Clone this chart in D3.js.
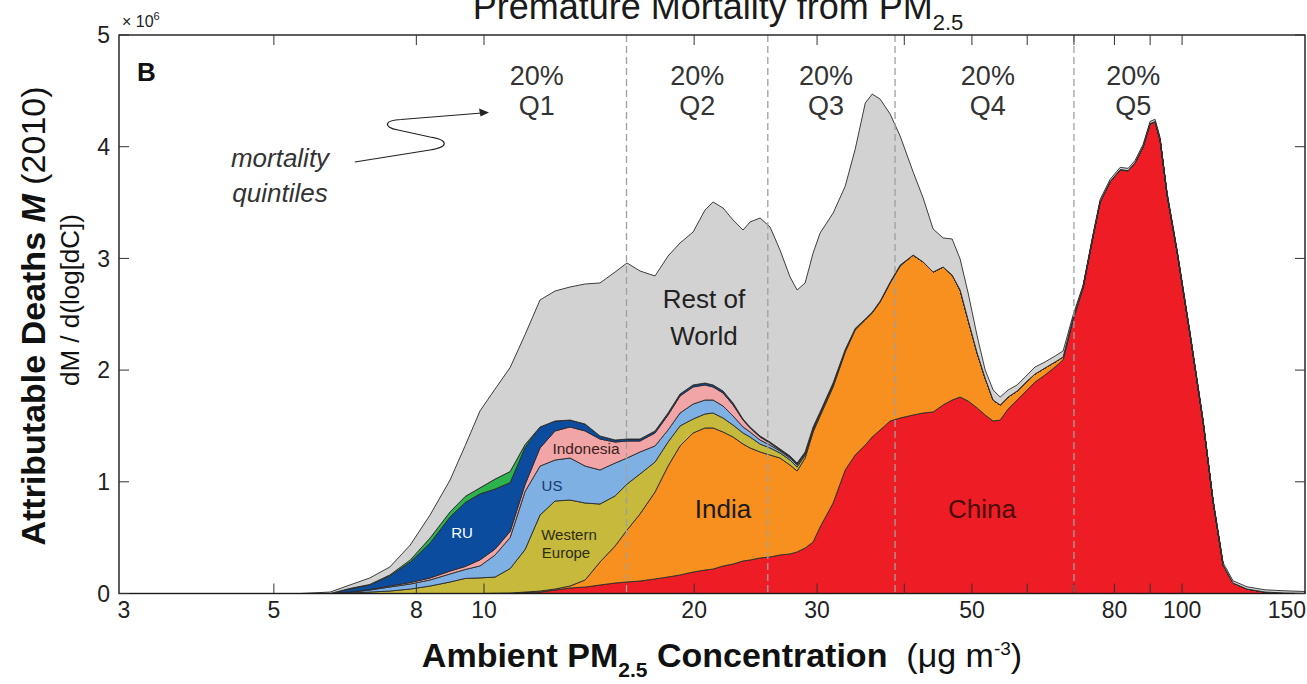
<!DOCTYPE html>
<html lang="en">
<head>
<meta charset="utf-8">
<title>Premature Mortality from PM2.5</title>
<script src="https://d3js.org/d3.v7.min.js"></script>
<style>
  body { margin: 0; background: #fff; }
  svg text { font-family: "Liberation Sans", Arial, Helvetica, sans-serif; }
</style>
</head>
<body>
<div id="chart"></div>
<script>

// ambient PM2.5 concentration (ug/m3) of each sample column
var concentration = [3.00, 5.45, 6.02, 6.43, 6.86, 7.33, 7.84, 8.37, 8.94, 9.40,
  9.87, 10.37, 10.90, 11.45, 12.03, 12.64, 13.28, 13.96, 14.66, 15.41,
  16.03, 16.73, 17.58, 18.35, 19.09, 19.93, 20.73, 21.29, 22.00, 22.74,
  23.50, 24.05, 24.86, 25.69, 26.55, 27.44, 28.09, 28.84, 29.61, 30.30,
  31.63, 32.92, 34.02, 35.17, 35.98, 36.94, 38.18, 39.46, 41.19, 42.57,
  43.99, 45.47, 46.84, 48.09, 49.38, 50.87, 52.23, 53.62, 54.88, 56.34,
  58.04, 59.98, 61.57, 63.63, 65.79, 67.54, 69.81, 72.15, 74.59, 76.33,
  78.87, 81.54, 83.71, 85.65, 87.94, 90.00, 91.48, 93.00, 95.17, 98.36,
  102.7, 107.2, 110.8, 114.5, 118.3, 123.9, 131.5, 140.5, 150.0];

// attributable deaths dM/d(log[dC]), millions, per region
var china = [0, 0, 0, 0, 0, 0, 0, 0, 0, 0,
  0, 0.002, 0.004, 0.008, 0.013, 0.031, 0.049, 0.058, 0.076, 0.094,
  0.103, 0.112, 0.130, 0.148, 0.166, 0.192, 0.210, 0.219, 0.246, 0.264,
  0.291, 0.300, 0.318, 0.327, 0.345, 0.354, 0.372, 0.407, 0.461, 0.595,
  0.810, 1.106, 1.240, 1.329, 1.401, 1.464, 1.544, 1.571, 1.598, 1.616,
  1.625, 1.688, 1.732, 1.759, 1.723, 1.661, 1.598, 1.544, 1.553, 1.652,
  1.732, 1.822, 1.893, 1.956, 2.028, 2.091, 2.449, 2.735, 3.200, 3.505,
  3.684, 3.791, 3.782, 3.854, 3.997, 4.203, 4.221, 4.060, 3.568, 3.057,
  2.314, 1.535, 0.819, 0.255, 0.094, 0.040, 0.013, 0.004, 0];
var india = [0, 0, 0, 0, 0, 0, 0, 0, 0, 0,
  0, 0, 0, 0.005, 0.009, 0.009, 0.018, 0.063, 0.206, 0.331,
  0.466, 0.600, 0.779, 0.993, 1.155, 1.245, 1.272, 1.263, 1.200, 1.137,
  1.047, 1.003, 0.949, 0.913, 0.868, 0.796, 0.725, 0.806, 0.985, 0.994,
  1.039, 1.056, 1.119, 1.120, 1.110, 1.146, 1.236, 1.361, 1.432, 1.352,
  1.253, 1.235, 1.119, 0.958, 0.726, 0.492, 0.331, 0.188, 0.135, 0.107,
  0.081, 0.080, 0.072, 0.063, 0.045, 0.027, 0.018, 0.009, 0.005, 0.004,
  0.004, 0.004, 0.004, 0.004, 0.004, 0.004, 0.004, 0.004, 0.004, 0.004,
  0, 0, 0, 0, 0, 0, 0, 0, 0];
var westernEurope = [0, 0, 0, 0.005, 0.013, 0.022, 0.040, 0.067, 0.103, 0.135,
  0.140, 0.145, 0.219, 0.380, 0.681, 0.788, 0.770, 0.689, 0.519, 0.448,
  0.411, 0.358, 0.268, 0.215, 0.179, 0.125, 0.125, 0.134, 0.125, 0.107,
  0.099, 0.098, 0.071, 0.063, 0.045, 0.045, 0.035, 0.027, 0.018, 0.018,
  0.018, 0.018, 0.009, 0.009, 0.008, 0.008, 0.008, 0.008, 0, 0,
  0, 0, 0, 0, 0, 0, 0, 0, 0, 0,
  0, 0, 0, 0, 0, 0, 0, 0, 0, 0,
  0, 0, 0, 0, 0, 0, 0, 0, 0, 0,
  0, 0, 0, 0, 0, 0, 0, 0, 0];
var us = [0, 0, 0, 0.005, 0.018, 0.036, 0.045, 0.054, 0.072, 0.080,
  0.107, 0.197, 0.278, 0.520, 0.438, 0.367, 0.376, 0.331, 0.305, 0.295,
  0.233, 0.197, 0.144, 0.108, 0.116, 0.134, 0.125, 0.116, 0.108, 0.081,
  0.054, 0.045, 0.036, 0.026, 0.018, 0.018, 0.018, 0.009, 0.009, 0.009,
  0.009, 0.005, 0.005, 0, 0, 0, 0, 0, 0, 0,
  0, 0, 0, 0, 0, 0, 0, 0, 0, 0,
  0, 0, 0, 0, 0, 0, 0, 0, 0, 0,
  0, 0, 0, 0, 0, 0, 0, 0, 0, 0,
  0, 0, 0, 0, 0, 0, 0, 0, 0];
var indonesia = [0, 0, 0, 0.004, 0.005, 0.009, 0.013, 0.018, 0.026, 0.027,
  0.054, 0.053, 0.054, 0.062, 0.162, 0.260, 0.278, 0.314, 0.277, 0.188,
  0.152, 0.098, 0.116, 0.134, 0.152, 0.153, 0.135, 0.117, 0.116, 0.099,
  0.062, 0.036, 0.027, 0.018, 0.009, 0.009, 0.009, 0.009, 0.009, 0.005,
  0.005, 0, 0, 0, 0, 0, 0, 0, 0, 0,
  0, 0, 0, 0, 0, 0, 0, 0, 0, 0,
  0, 0, 0, 0, 0, 0, 0, 0, 0, 0,
  0, 0, 0, 0, 0, 0, 0, 0, 0, 0,
  0, 0, 0, 0, 0, 0, 0, 0, 0];
var russia = [0, 0, 0, 0.027, 0.040, 0.090, 0.184, 0.313, 0.484, 0.573,
  0.591, 0.538, 0.438, 0.332, 0.188, 0.089, 0.062, 0.062, 0.027, 0.018,
  0.018, 0.018, 0.018, 0.018, 0.018, 0.018, 0.017, 0.018, 0.018, 0.017,
  0.009, 0.009, 0.009, 0.009, 0.009, 0.009, 0.009, 0.009, 0.009, 0.005,
  0.005, 0, 0, 0, 0, 0, 0, 0, 0, 0,
  0, 0, 0, 0, 0, 0, 0, 0, 0, 0,
  0, 0, 0, 0, 0, 0, 0, 0, 0, 0,
  0, 0, 0, 0, 0, 0, 0, 0, 0, 0,
  0, 0, 0, 0, 0, 0, 0, 0, 0];
var otherGreen = [0, 0, 0, 0.005, 0.005, 0.009, 0.018, 0.045, 0.045, 0.054,
  0.054, 0.089, 0.099, 0.026, 0, 0, 0, 0, 0, 0,
  0, 0, 0, 0, 0, 0, 0, 0, 0, 0,
  0, 0, 0, 0, 0, 0, 0, 0, 0, 0,
  0, 0, 0, 0, 0, 0, 0, 0, 0, 0,
  0, 0, 0, 0, 0, 0, 0, 0, 0, 0,
  0, 0, 0, 0, 0, 0, 0, 0, 0, 0,
  0, 0, 0, 0, 0, 0, 0, 0, 0, 0,
  0, 0, 0, 0, 0, 0, 0, 0, 0];
var restOfWorld = [0, 0, 0.013, 0.031, 0.058, 0.071, 0.134, 0.206, 0.286, 0.456,
  0.689, 0.806, 0.931, 0.985, 1.137, 1.164, 1.191, 1.254, 1.370, 1.504,
  1.576, 1.504, 1.388, 1.405, 1.352, 1.369, 1.549, 1.638, 1.638, 1.639,
  1.692, 1.835, 1.952, 1.925, 1.781, 1.603, 1.549, 1.513, 1.557, 1.601,
  1.520, 1.462, 1.605, 1.933, 1.952, 1.808, 1.504, 1.155, 0.743, 0.573,
  0.385, 0.260, 0.323, 0.277, 0.241, 0.152, 0.072, 0.090, 0.071, 0.063,
  0.054, 0.054, 0.063, 0.054, 0.053, 0.053, 0.026, 0.018, 0.020, 0.020,
  0.020, 0.020, 0.020, 0.020, 0.020, 0.020, 0.020, 0.020, 0.020, 0.020,
  0.020, 0.020, 0.020, 0.020, 0.020, 0.020, 0.020, 0.020, 0.018];

var regionKeys = ["China", "India", "Western Europe", "US", "Indonesia", "RU", "Other", "Rest of World"];
var regionSeries = [china, india, westernEurope, us, indonesia, russia, otherGreen, restOfWorld];
var regionColors = ["#ee1c25", "#f7901e", "#c6b93c", "#7fb0e3", "#f2a5a6", "#0b4c9e", "#2db34b", "#d2d2d2"];

// axes
var xTicks = [5, 8, 10, 20, 30, 40, 50, 60, 70, 80, 90, 100];
var xTickLabels = [3, 5, 8, 10, 20, 30, 50, 80, 100, 150];
var yTicks = [0, 1, 2, 3, 4, 5];

// mortality quintile boundaries and label positions (ug/m3)
var quintileBounds = [16.0, 25.5, 38.8, 70.0];
var quintileNames = ["Q1", "Q2", "Q3", "Q4", "Q5"];
var quintileLabelAt = [11.9, 20.2, 30.9, 52.7, 85.1];

var w = 1307, h = 684;
var plot = {left: 119, right: 1305, top: 35, bottom: 593.5};

var svg = d3.select("#chart").append("svg")
  .attr("width", w)
  .attr("height", h);

var x = d3.scaleLog().domain([3, 150]).range([plot.left, plot.right]);
var y = d3.scaleLinear().domain([0, 5]).range([plot.bottom, plot.top]);

// build rows for the stack
var rows = concentration.map(function(c, i) {
  var r = {c: c};
  regionKeys.forEach(function(k, j) { r[k] = regionSeries[j][i]; });
  return r;
});

var stack = d3.stack().keys(regionKeys);
var layers = stack(rows);

var area = d3.area()
  .x(function(d) { return x(d.data.c); })
  .y0(function(d) { return y(d[0]); })
  .y1(function(d) { return y(d[1]); });

svg.append("g").selectAll("path")
  .data(layers)
  .enter().append("path")
  .attr("d", area)
  .attr("fill", function(d, i) { return regionColors[i]; })
  .attr("stroke", "#2a2a2a")
  .attr("stroke-width", 0.9)
  .attr("stroke-linejoin", "round");

// quintile dividers
svg.append("g").selectAll("line")
  .data(quintileBounds)
  .enter().append("line")
  .attr("x1", function(d) { return x(d); })
  .attr("x2", function(d) { return x(d); })
  .attr("y1", plot.top)
  .attr("y2", plot.bottom)
  .attr("stroke", "#a0a0a0")
  .attr("stroke-width", 1.3)
  .attr("stroke-dasharray", "7,4");

// frame + ticks
svg.append("rect")
  .attr("x", plot.left).attr("y", plot.top)
  .attr("width", plot.right - plot.left).attr("height", plot.bottom - plot.top)
  .attr("fill", "none").attr("stroke", "#1a1a1a").attr("stroke-width", 1.4);

var tickLen = 10;
var tg = svg.append("g").attr("stroke", "#333").attr("stroke-width", 1);
xTicks.forEach(function(t) {
  tg.append("line").attr("x1", x(t)).attr("x2", x(t)).attr("y1", plot.bottom).attr("y2", plot.bottom - tickLen);
  tg.append("line").attr("x1", x(t)).attr("x2", x(t)).attr("y1", plot.top).attr("y2", plot.top + tickLen);
});
yTicks.forEach(function(t) {
  tg.append("line").attr("x1", plot.left).attr("x2", plot.left + tickLen).attr("y1", y(t)).attr("y2", y(t));
  tg.append("line").attr("x1", plot.right).attr("x2", plot.right - tickLen).attr("y1", y(t)).attr("y2", y(t));
});

svg.append("g").selectAll("text")
  .data(xTickLabels)
  .enter().append("text")
  .attr("x", function(d, i) {
    if (i == 0) return x(d) + 5;
    if (i == xTickLabels.length - 1) return x(d) + 1;
    return x(d);
  })
  .attr("y", 618)
  .attr("text-anchor", function(d, i) { return i == xTickLabels.length - 1 ? "end" : "middle"; })
  .attr("font-size", 23)
  .attr("fill", "#222")
  .text(function(d) { return d; });

svg.append("g").selectAll("text")
  .data(yTicks)
  .enter().append("text")
  .attr("x", 110)
  .attr("y", function(d) { return y(d); })
  .attr("dy", "0.36em")
  .attr("text-anchor", "end")
  .attr("font-size", 23)
  .attr("fill", "#222")
  .text(function(d) { return d; });

// x 10^6 multiplier
var mult = svg.append("text").attr("x", 122).attr("y", 27).attr("font-size", 16).attr("fill", "#222");
mult.append("tspan").text("\u00d7 10");
mult.append("tspan").attr("font-size", 11).attr("dy", -7).text("6");

// panel letter
svg.append("text").attr("x", 137).attr("y", 81).attr("font-size", 26).attr("font-weight", "bold").attr("fill", "#111").text("B");

// title
var title = svg.append("text").attr("x", 718).attr("y", 19).attr("text-anchor", "middle")
  .attr("font-size", 36).attr("fill", "#1a1a1a");
title.append("tspan").text("Premature Mortality from PM");
title.append("tspan").attr("font-size", 22).attr("dy", 11).text("2.5");

// quintile labels
quintileLabelAt.forEach(function(c, i) {
  svg.append("text").attr("x", x(c)).attr("y", 85).attr("text-anchor", "middle")
    .attr("font-size", 27).attr("fill", "#333").text("20%");
  svg.append("text").attr("x", x(c)).attr("y", 115).attr("text-anchor", "middle")
    .attr("font-size", 27).attr("fill", "#333").text(quintileNames[i]);
});

// mortality quintiles annotation with squiggle arrow
svg.append("text").attr("x", 280).attr("y", 167).attr("text-anchor", "middle")
  .attr("font-size", 26).attr("font-style", "italic").attr("fill", "#333").text("mortality");
svg.append("text").attr("x", 280).attr("y", 202).attr("text-anchor", "middle")
  .attr("font-size", 26).attr("font-style", "italic").attr("fill", "#333").text("quintiles");

var p0 = [x(6.53), y(3.863)];
var squiggle = "M" + p0[0] + "," + p0[1] +
  " L430,150 C449,147 449,140 430,137 L398,130 C382,127 385,120 401,119.5 L482,113";
svg.append("path").attr("d", squiggle).attr("fill", "none").attr("stroke", "#222").attr("stroke-width", 1.2);
svg.append("path").attr("d", "M489,112.5 L479,108.5 L480.5,116.5 Z").attr("fill", "#222");

// region labels
function label(txt, cx, by, size, color) {
  svg.append("text").attr("x", cx).attr("y", by).attr("text-anchor", "middle")
    .attr("font-size", size).attr("fill", color).text(txt);
}
label("Rest of", 704, 308, 26, "#222");
label("World", 704, 345, 26, "#222");
label("India", 723, 518, 26, "#1a1a1a");
label("China", 982, 518, 26, "#4a0a0a");
label("RU", 462, 538, 15, "#ffffff");
label("US", 552, 491, 15, "#17386e");
label("Indonesia", 586, 454, 15.5, "#3a1f1f");
label("Western", 569, 540, 15, "#2e2d10");
label("Europe", 566, 558, 15, "#2e2d10");

// axis titles
var xt = svg.append("text").attr("x", 722).attr("y", 667).attr("text-anchor", "middle")
  .attr("font-size", 34).attr("fill", "#111")
  .attr("xml:space", "preserve").style("white-space", "pre");
xt.append("tspan").attr("font-weight", "bold").text("Ambient PM");
xt.append("tspan").attr("font-weight", "bold").attr("font-size", 21).attr("dy", 10).text("2.5");
xt.append("tspan").attr("font-weight", "bold").attr("dy", -10).text(" Concentration");
xt.append("tspan").text("  (\u03bcg m");
xt.append("tspan").attr("font-size", 19).attr("dy", -12).text("-3");
xt.append("tspan").attr("dy", 12).text(")");

var yt = svg.append("text").attr("transform", "translate(45,316) rotate(-90)")
  .attr("text-anchor", "middle").attr("font-size", 34).attr("fill", "#111");
yt.append("tspan").attr("font-weight", "bold").text("Attributable Deaths ");
yt.append("tspan").attr("font-weight", "bold").attr("font-style", "italic").text("M");
yt.append("tspan").text(" (2010)");

svg.append("text").attr("transform", "translate(79,300) rotate(-90)")
  .attr("text-anchor", "middle").attr("font-size", 26).attr("fill", "#111")
  .text("dM / d(log[dC])");

</script>
</body>
</html>
